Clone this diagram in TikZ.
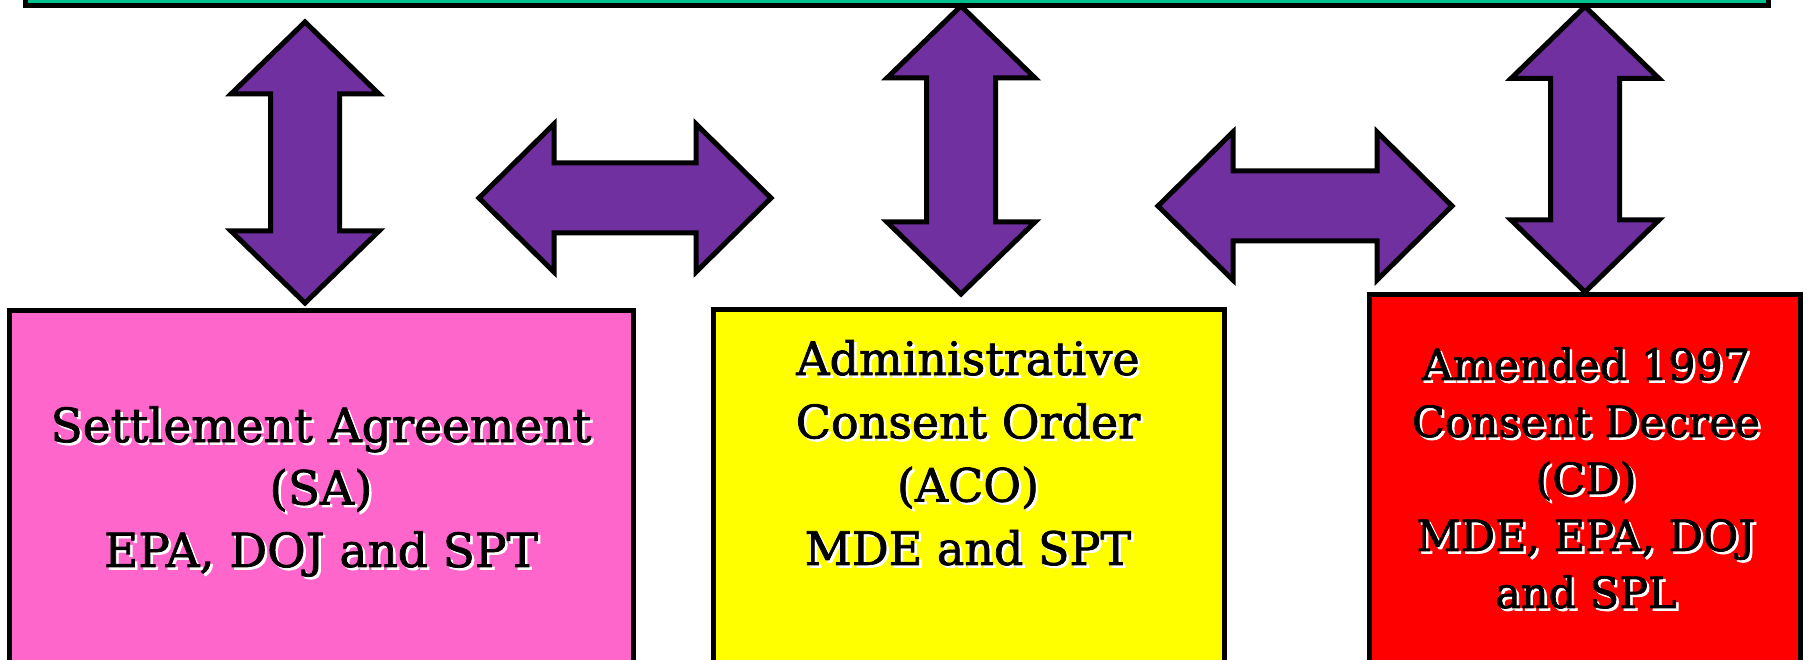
\documentclass[tikz,border=0pt]{standalone}
\usepackage{fontspec}
\setmainfont{DejaVu Serif}
\newfontfamily\labelfont{DejaVu Serif}[BoldFont=DejaVu Serif, FakeBold=1.6]
\definecolor{bargreen}{RGB}{0,192,140}
\definecolor{apurple}{RGB}{112,48,160}
\definecolor{sapink}{RGB}{255,102,204}
\definecolor{acoyellow}{RGB}{255,255,0}
\definecolor{cdred}{RGB}{255,0,0}
\tikzset{
  outl/.style={draw=black, line width=5pt, line join=miter},
  blockarrow/.style={outl, fill=apurple},
  lbl/.style={inner sep=0pt, anchor=base, text=black, font=\labelfont\bfseries},
  lblshadow/.style={lbl, text=white},
}
% vertical double block arrow: cx, top, bottom
\newcommand\vblockarrow[3]{%
  \draw[blockarrow] (#1,#2) -- (#1+74,#2+72) -- (#1+34.5,#2+72) -- (#1+34.5,#3-72)
    -- (#1+74,#3-72) -- (#1,#3) -- (#1-74,#3-72) -- (#1-34.5,#3-72)
    -- (#1-34.5,#2+72) -- (#1-74,#2+72) -- cycle;}
% horizontal double block arrow: left, right, cy
\newcommand\hblockarrow[3]{%
  \draw[blockarrow] (#1,#3) -- (#1+75,#3-74) -- (#1+75,#3-35) -- (#2-75,#3-35)
    -- (#2-75,#3-74) -- (#2,#3) -- (#2-75,#3+74) -- (#2-75,#3+35)
    -- (#1+75,#3+35) -- (#1+75,#3+74) -- cycle;}
% shadowed label: name, x, first baseline y, font size, skip, lines
\newcommand\shadowlabel[6]{%
  \node[lblshadow] (#1s) at (#2+2.5,#3+2.5)
    {\fontsize{#4}{#5}\selectfont\begin{tabular}[t]{@{}c@{}}#6\end{tabular}};
  \node[lbl] (#1) at (#2,#3)
    {\fontsize{#4}{#5}\selectfont\begin{tabular}[t]{@{}c@{}}#6\end{tabular}};}
\begin{document}
\begin{tikzpicture}[x=1pt,y=-1pt]
\useasboundingbox (0,0) rectangle (1808,660);
\clip (0,0) rectangle (1808,660);
% top bar
\draw[outl, fill=bargreen] (25,-60) rectangle (1768,5.5);
% boxes
\draw[outl, fill=sapink] (9.5,310.5) rectangle (633.5,700);
\draw[outl, fill=acoyellow] (713,309.5) rectangle (1224.5,700);
\draw[outl, fill=cdred] (1369.5,294.5) rectangle (1800.5,700);
% arrows
\vblockarrow{305}{22}{303}
\vblockarrow{961}{6}{294}
\vblockarrow{1585}{6.5}{292}
\hblockarrow{479}{771}{198}
\hblockarrow{1158}{1452}{206}
% labels
\shadowlabel{sa}{321}{442}{47}{62.5}{Settlement Agreement\\(SA)\\EPA, DOJ and SPT}
\shadowlabel{aco}{968}{375}{46}{63.3}{Administrative\\Consent Order\\(ACO)\\MDE and SPT}
\shadowlabel{cd}{1586}{380}{43}{57}{Amended 1997\\Consent Decree\\(CD)\\MDE, EPA, DOJ\\and SPL}
\end{tikzpicture}
\end{document}
